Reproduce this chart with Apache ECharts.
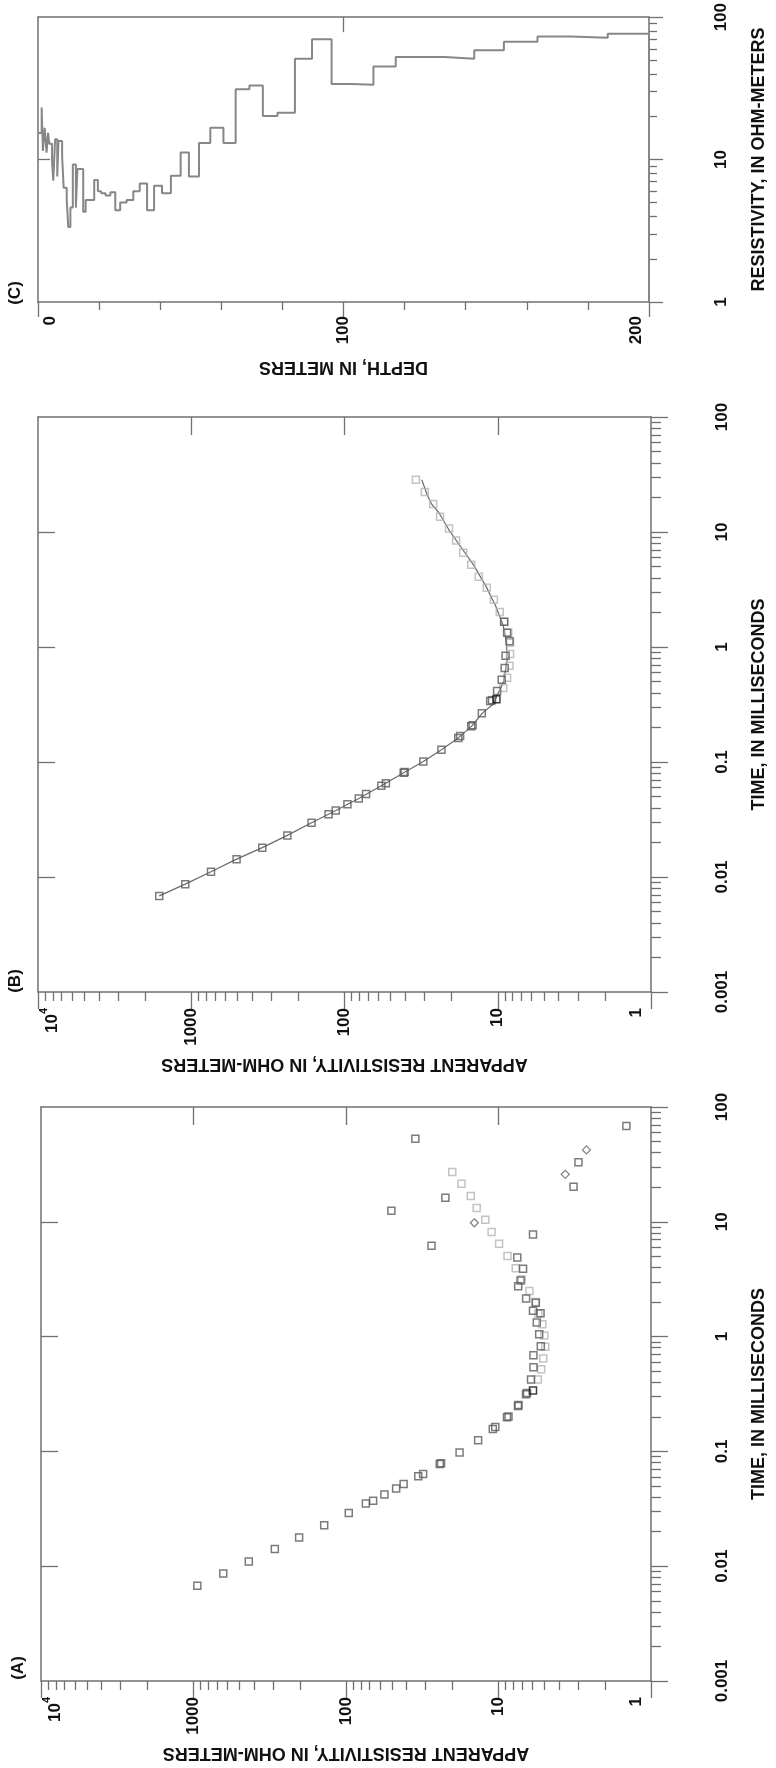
<!DOCTYPE html>
<html>
<head>
<meta charset="utf-8">
<script src="https://cdn.jsdelivr.net/npm/echarts@6/dist/echarts.min.js"></script>
<style>
html, body { margin: 0; padding: 0; background: #fff; }
#charts { width: 776px; height: 1768px; }
</style>
</head>
<body>
<div id="charts"></div>
<script>
var myChart = echarts.init(document.getElementById('charts'));

// (A) measured apparent resistivity [ohm-m, ms]
var aDark = [
	[944, 0.00676], [638, 0.00863], [434, 0.0110], [293, 0.0141], [203, 0.0178],
	[139, 0.0227], [95.9, 0.0291], [74.1, 0.0351], [66.4, 0.0372], [56.0, 0.0422],
	[46.9, 0.0475], [41.9, 0.0519], [33.6, 0.0607], [31.2, 0.0637], [24.3, 0.0775],
	[23.8, 0.0790], [18.0, 0.098], [13.6, 0.125], [10.9, 0.157], [10.5, 0.163],
	[8.8, 0.198], [8.6, 0.201], [7.45, 0.249], [7.4, 0.254], [6.6, 0.315],
	[6.5, 0.322], [6.12, 0.423], [5.90, 0.54], [5.90, 0.689], [5.28, 0.822],
	[5.41, 1.05], [5.61, 1.33], [5.30, 1.60], [5.94, 1.68], [5.69, 1.97],
	[6.59, 2.15], [7.43, 2.74], [7.17, 3.08], [6.90, 3.90], [7.53, 4.89],
	[5.94, 7.74], [27.5, 6.18], [50.4, 12.5], [22.3, 16.2], [35.1, 52.8],
	[3.22, 20.2], [2.99, 33.0], [1.45, 68.2]
];
var aBlack = [[5.94, 0.34]];
var aLight = [
	[5.52, 0.423], [5.25, 0.519], [5.09, 0.644], [4.94, 0.815], [5.01, 1.02],
	[5.16, 1.28], [5.48, 1.59], [5.73, 2.0], [6.27, 2.49], [7.05, 3.15],
	[7.71, 3.94], [8.73, 5.04], [9.91, 6.44], [11.1, 8.14], [12.2, 10.4],
	[13.9, 13.2], [15.2, 16.8], [17.5, 21.5], [20.1, 27.2]
];
var aDiamond = [[14.4, 9.8], [3.65, 25.9], [2.65, 42.3]];

// (B) data used in the inversion, and the model response
var bDark = [
	[1618, 0.00685], [1094, 0.00867], [743, 0.0111], [506, 0.0143], [344, 0.018],
	[236, 0.023], [164, 0.0296], [127, 0.0352], [114, 0.0378], [95.7, 0.043],
	[80.7, 0.0482], [72.3, 0.0526], [57.5, 0.0621], [53.7, 0.0654], [41.1, 0.0805],
	[40.5, 0.082], [30.6, 0.101], [23.3, 0.128], [18.1, 0.162], [17.6, 0.168],
	[14.9, 0.205], [14.6, 0.209], [12.7, 0.266], [11.2, 0.339], [10.9, 0.345],
	[10.1, 0.414], [9.42, 0.519], [9.01, 0.658], [8.89, 0.84], [8.38, 1.12],
	[8.69, 1.33], [9.08, 1.66]
];
var bBlack = [[10.2, 0.351]];
var bLight = [
	[9.2, 0.44], [8.69, 0.54], [8.38, 0.686], [8.31, 0.868], [8.31, 1.09],
	[8.55, 1.33], [9.08, 1.66], [9.7, 2.02], [10.6, 2.58], [11.8, 3.27],
	[13.3, 4.09], [14.9, 5.18], [16.8, 6.61], [18.7, 8.43], [20.8, 10.7],
	[23.8, 13.6], [26.4, 17.5], [29.9, 22.3], [34.2, 28.5]
];
var bModel = [
	[1618, 0.00685], [1094, 0.00867], [743, 0.0111], [506, 0.0143], [344, 0.018],
	[236, 0.023], [164, 0.0296], [114, 0.0378], [80.7, 0.0482], [57.5, 0.0621],
	[41.1, 0.0805], [30.6, 0.101], [23.3, 0.128], [18.1, 0.162], [14.8, 0.205],
	[12.6, 0.266], [10.7, 0.319], [9.2, 0.493], [8.69, 0.762], [8.76, 1.08],
	[9.2, 1.53], [10.3, 2.26], [11.9, 3.35], [14.4, 5.18], [17.3, 7.33],
	[20.8, 10.4], [24.2, 14.7], [27.0, 17.5], [28.8, 20.9], [31.3, 28.5]
];

// (C) layered model: [top of layer in m, resistivity in ohm-m]
var cLayers = [
	[0, 15.4], [1.2, 23.2], [1.6, 11.5], [2.2, 16.7], [2.8, 11.2], [3.3, 15.4],
	[3.7, 12.9], [4.6, 9.6], [5.0, 7.1], [5.6, 13.9], [6.3, 7.6], [6.7, 13.5],
	[7.9, 10.5], [8.4, 6.35], [9.4, 5.2], [9.9, 3.36], [10.6, 4.6], [11.4, 9.25],
	[12.4, 4.6], [12.9, 8.6], [14.8, 4.3], [15.6, 5.2], [18.4, 7.2], [19.6, 6.0],
	[20.7, 5.8], [22.1, 5.6], [23.7, 5.9], [25.3, 4.4], [26.9, 5.0], [29.0, 5.2],
	[31.2, 6.0], [33.3, 6.8], [35.7, 4.4], [38.0, 6.55], [40.6, 5.8], [43.5, 7.7],
	[46.7, 11.2], [49.4, 7.6], [52.7, 13.1], [56.4, 16.7], [60.7, 13.1], [64.7, 31.2],
	[69.2, 33.1], [73.6, 20.2], [78.4, 21.3], [84.1, 51.1], [89.7, 69.9], [96.1, 34],
	[102.6, 33.6], [109.8, 45], [117.1, 52.6], [133.2, 51], [142.8, 58.6], [152.5, 67.3],
	[163.5, 73.3], [174.2, 71.8], [186.5, 76.5], [200, 76.5], [200, 1]
];

// tick values
var rhoMinor = [2, 3, 4, 5, 6, 7, 8, 9, 20, 30, 40, 50, 60, 70, 80, 90,
	200, 300, 400, 500, 600, 700, 800, 900, 2000, 3000, 4000, 5000, 6000, 7000, 8000, 9000];
var rhoInner = [10, 100, 1000];
var timeMinor = [0.002, 0.003, 0.004, 0.005, 0.006, 0.007, 0.008, 0.009,
	0.02, 0.03, 0.04, 0.05, 0.06, 0.07, 0.08, 0.09,
	0.2, 0.3, 0.4, 0.5, 0.6, 0.7, 0.8, 0.9,
	2, 3, 4, 5, 6, 7, 8, 9, 20, 30, 40, 50, 60, 70, 80, 90];
var timeInner = [0.01, 0.1, 1, 10];
var depthMinor = [20, 40, 60, 80, 120, 140, 160, 180];
var resCMinor = [2, 3, 4, 5, 6, 7, 8, 9, 20, 30, 40, 50, 60, 70, 80, 90];

var GRAY = '#707070';
var NUM_FONT = "'Liberation Sans', Arial, sans-serif";
var NAME_FONT = "'Liberation Sans', Arial, sans-serif";

function numStyle(extra){
	var s = {fontFamily: NUM_FONT, fontWeight: 'bold', fontSize: 17, color: '#111'};
	for(var k in extra){ s[k] = extra[k]; }
	return s;
}
var nameStyle = {fontFamily: NAME_FONT, fontWeight: 'bold', fontSize: 18, color: '#111'};
var axisLine = {show: true, onZero: false, lineStyle: {color: GRAY, width: 1.5}};
var tickLine = {color: GRAY, width: 1.3};

function rhoLabel(v){
	var r = Math.round(v);
	if(r === 10000) return '{b|10}{s|4}';
	if(r === 1) return '{one|1}';
	return String(r);
}
function timeLabel(v){
	return String(parseFloat(Number(v).toPrecision(1)));
}
function depthLabel(v){
	if(v === 0) return '{lo|0}';
	if(v === 200) return '{hi|200}';
	return String(v);
}

function rhoAxes(g){
	return [{
		type: 'log', logBase: 10, gridIndex: g, position: 'bottom', inverse: true, min: 1, max: 10000,
		name: 'APPARENT RESISTIVITY, IN OHM-METERS', nameLocation: 'middle', nameRotate: 180, nameGap: 63,
		nameTextStyle: nameStyle,
		axisLine: axisLine,
		axisTick: {show: true, length: 17, lineStyle: tickLine},
		axisLabel: numStyle({rotate: 90, margin: 16, formatter: rhoLabel, showMinLabel: true, showMaxLabel: true,
			rich: {
				b: numStyle({padding: [28, 0, 0, 0]}),
				s: numStyle({fontSize: 11, padding: [12, 0, 0, 0]}),
				one: numStyle({padding: [0, 0, 30, 0]})
			}}),
		splitLine: {show: false}
	}, {
		type: 'log', logBase: 10, gridIndex: g, position: 'bottom', inverse: true, min: 1, max: 10000,
		axisLine: {show: false, onZero: false},
		axisTick: {show: true, length: 9, customValues: rhoMinor, lineStyle: tickLine},
		axisLabel: {show: false}, splitLine: {show: false}
	}, {
		type: 'log', logBase: 10, gridIndex: g, position: 'top', inverse: true, min: 1, max: 10000,
		axisLine: axisLine,
		axisTick: {show: true, inside: true, length: 18, customValues: rhoInner, lineStyle: tickLine},
		axisLabel: {show: false}, splitLine: {show: false}
	}];
}

function timeAxes(g){
	return [{
		type: 'log', logBase: 10, gridIndex: g, position: 'right', min: 0.001, max: 100,
		name: 'TIME, IN MILLISECONDS', nameLocation: 'middle', nameRotate: 90, nameGap: 99,
		nameTextStyle: nameStyle,
		axisLine: axisLine,
		axisTick: {show: true, length: 17, lineStyle: tickLine},
		axisLabel: numStyle({rotate: 90, margin: 63, formatter: timeLabel, showMinLabel: true, showMaxLabel: true}),
		splitLine: {show: false}
	}, {
		type: 'log', logBase: 10, gridIndex: g, position: 'right', min: 0.001, max: 100,
		axisLine: {show: false, onZero: false},
		axisTick: {show: true, length: 10, customValues: timeMinor, lineStyle: tickLine},
		axisLabel: {show: false}, splitLine: {show: false}
	}, {
		type: 'log', logBase: 10, gridIndex: g, position: 'left', min: 0.001, max: 100,
		axisLine: axisLine,
		axisTick: {show: true, inside: true, length: 17, customValues: timeInner, lineStyle: tickLine},
		axisLabel: {show: false}, splitLine: {show: false}
	}];
}

var xAxes = [{
	type: 'value', gridIndex: 0, position: 'bottom', min: 0, max: 200, interval: 100,
	name: 'DEPTH, IN METERS', nameLocation: 'middle', nameRotate: 180, nameGap: 56,
	nameTextStyle: nameStyle,
	axisLine: axisLine,
	axisTick: {show: true, length: 15, lineStyle: tickLine},
	axisLabel: numStyle({rotate: 90, margin: 14, formatter: depthLabel, showMinLabel: true, showMaxLabel: true,
		rich: {
			lo: numStyle({padding: [24, 0, 0, 0]}),
			hi: numStyle({padding: [0, 0, 26, 0]})
		}}),
	splitLine: {show: false}
}, {
	type: 'value', gridIndex: 0, position: 'bottom', min: 0, max: 200,
	axisLine: {show: false, onZero: false},
	axisTick: {show: true, length: 8, customValues: depthMinor, lineStyle: tickLine},
	axisLabel: {show: false}, splitLine: {show: false}
}, {
	type: 'value', gridIndex: 0, position: 'top', min: 0, max: 200,
	axisLine: axisLine,
	axisTick: {show: true, inside: true, length: 15, customValues: [100], lineStyle: tickLine},
	axisLabel: {show: false}, splitLine: {show: false}
}].concat(rhoAxes(1), rhoAxes(2));

var yAxes = [{
	type: 'log', logBase: 10, gridIndex: 0, position: 'right', min: 1, max: 100,
	name: 'RESISTIVITY, IN OHM-METERS', nameLocation: 'middle', nameRotate: 90, nameGap: 101,
	nameTextStyle: nameStyle,
	axisLine: axisLine,
	axisTick: {show: true, length: 14, lineStyle: tickLine},
	axisLabel: numStyle({rotate: 90, margin: 64, formatter: timeLabel, showMinLabel: true, showMaxLabel: true}),
	splitLine: {show: false}
}, {
	type: 'log', logBase: 10, gridIndex: 0, position: 'right', min: 1, max: 100,
	axisLine: {show: false, onZero: false},
	axisTick: {show: true, length: 8, customValues: resCMinor, lineStyle: tickLine},
	axisLabel: {show: false}, splitLine: {show: false}
}, {
	type: 'log', logBase: 10, gridIndex: 0, position: 'left', min: 1, max: 100,
	axisLine: axisLine,
	axisTick: {show: true, inside: true, length: 12, customValues: [10], lineStyle: tickLine},
	axisLabel: {show: false}, splitLine: {show: false}
}].concat(timeAxes(1), timeAxes(2));

function squares(data, xi, color, z){
	return {
		type: 'scatter', xAxisIndex: xi, yAxisIndex: xi, data: data,
		symbol: 'rect', symbolSize: 7, z: z || 3,
		itemStyle: {color: 'rgba(0,0,0,0)', borderColor: color, borderWidth: 1.5}
	};
}

var option = {
	animation: false,
	backgroundColor: '#fff',
	grid: [
		{left: 38, top: 15, width: 615, height: 287},
		{left: 38, top: 417, width: 615, height: 575},
		{left: 41, top: 1107, width: 615, height: 574}
	],
	xAxis: xAxes,
	yAxis: yAxes,
	graphic: [
		{type: 'text', x: 15, y: 293, rotation: Math.PI / 2,
			style: {text: '(C)', fill: '#111', font: 'bold 17px ' + NAME_FONT, align: 'center', verticalAlign: 'middle'}},
		{type: 'text', x: 15, y: 981, rotation: Math.PI / 2,
			style: {text: '(B)', fill: '#111', font: 'bold 17px ' + NAME_FONT, align: 'center', verticalAlign: 'middle'}},
		{type: 'text', x: 18, y: 1668, rotation: Math.PI / 2,
			style: {text: '(A)', fill: '#111', font: 'bold 17px ' + NAME_FONT, align: 'center', verticalAlign: 'middle'}}
	],
	series: [
		{
			type: 'line', step: 'end', xAxisIndex: 0, yAxisIndex: 0, data: cLayers,
			symbol: 'none', lineStyle: {color: '#878787', width: 2}
		},
		{
			type: 'line', xAxisIndex: 3, yAxisIndex: 3, data: bModel, z: 2,
			symbol: 'none', lineStyle: {color: '#6a6a6a', width: 1.2}
		},
		squares(bLight, 3, '#b4b4b4'),
		squares(bDark, 3, '#5a5a5a', 4),
		squares(bBlack, 3, '#111', 5),
		squares(aLight, 6, '#b4b4b4'),
		squares(aDark, 6, '#5a5a5a', 4),
		squares(aBlack, 6, '#111', 5),
		{
			type: 'scatter', xAxisIndex: 6, yAxisIndex: 6, data: aDiamond,
			symbol: 'diamond', symbolSize: 8,
			itemStyle: {color: 'rgba(0,0,0,0)', borderColor: '#666', borderWidth: 1.3}
		}
	]
};

myChart.setOption(option);
</script>
</body>
</html>
